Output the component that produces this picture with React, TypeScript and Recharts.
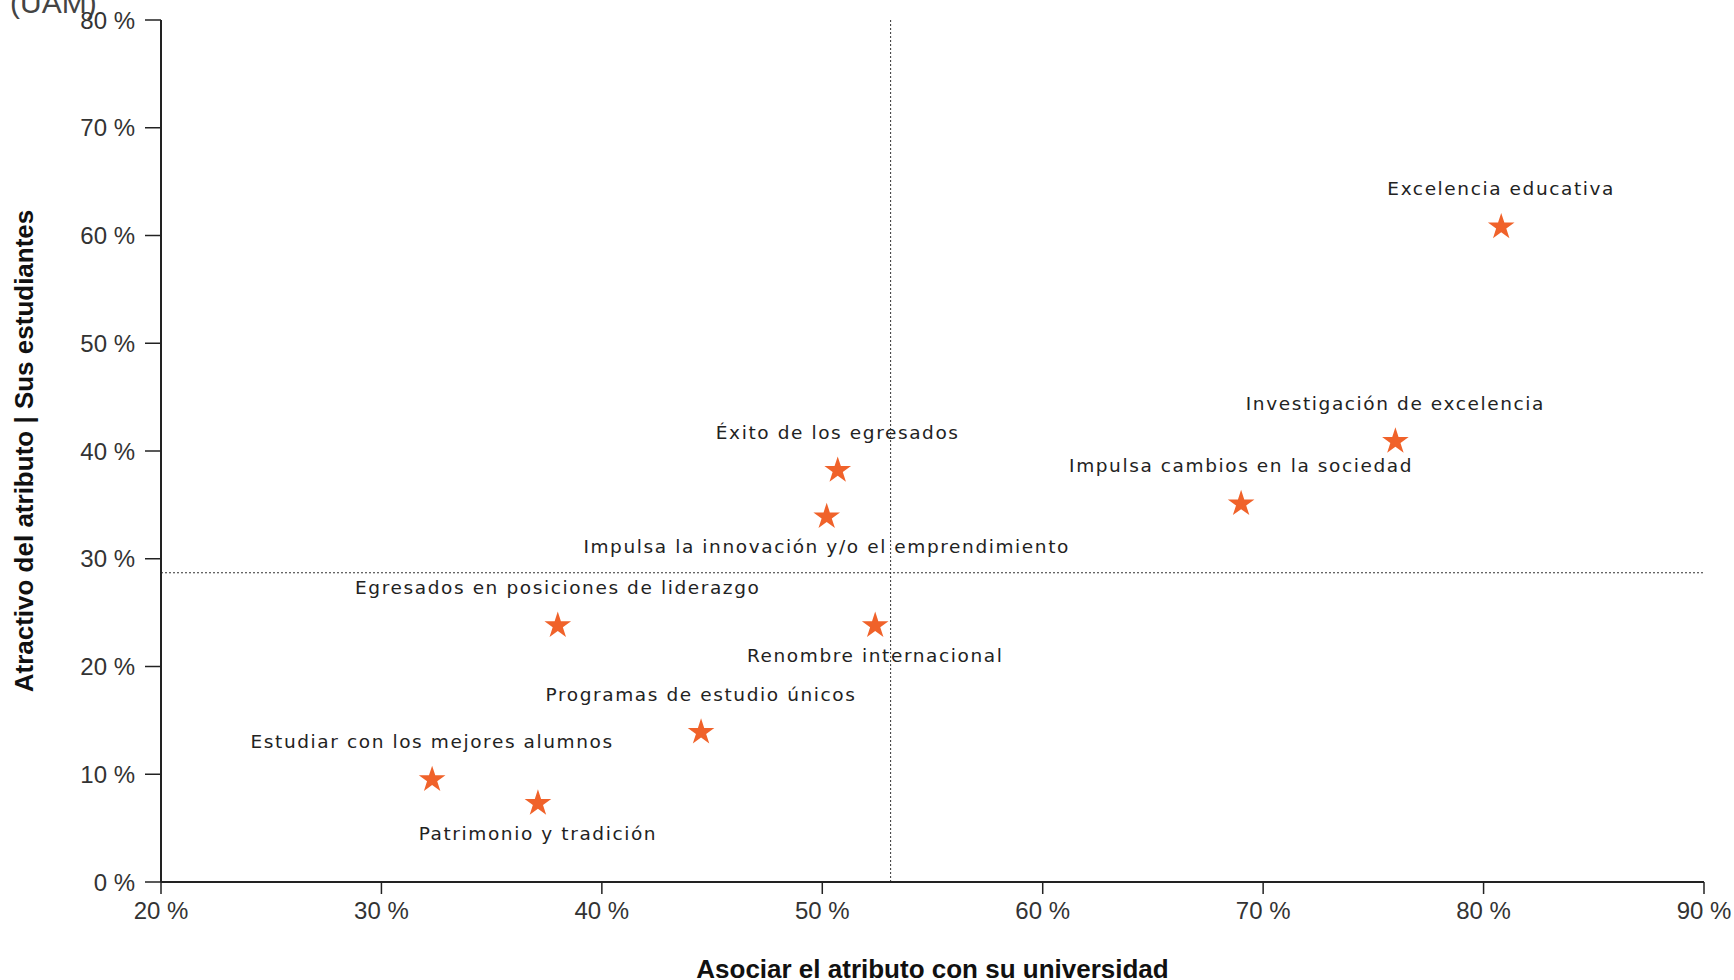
import { ReferenceLine, Scatter, ScatterChart, Symbols, XAxis, YAxis, Label } from "recharts";

const attributes = [
  "Excelencia educativa",
  "Investigación de excelencia",
  "Impulsa cambios en la sociedad",
  "Éxito de los egresados",
  "Impulsa la innovación y/o el emprendimiento",
  "Egresados en posiciones de liderazgo",
  "Renombre internacional",
  "Programas de estudio únicos",
  "Estudiar con los mejores alumnos",
  "Patrimonio y tradición",
];
const association = [80.8, 76.0, 69.0, 50.7, 50.2, 38.0, 52.4, 44.5, 32.3, 37.1];
const attractiveness = [60.8, 40.9, 35.1, 38.2, 33.9, 23.8, 23.8, 13.9, 9.5, 7.3];
const labelsBelow = ["Impulsa la innovación y/o el emprendimiento", "Renombre internacional", "Patrimonio y tradición"];

const avgAssociation = 53.1;
const avgAttractiveness = 28.7;

const xTicks = [20, 30, 40, 50, 60, 70, 80, 90];
const yTicks = [0, 10, 20, 30, 40, 50, 60, 70, 80];

const points = attributes.map((name, i) => ({ name, x: association[i], y: attractiveness[i] }));

const tickStyle = { fill: "#333", fontSize: 24, fontFamily: "'Liberation Sans Narrow', 'Liberation Sans', sans-serif" };

function StarPoint(props: any) {
  const { cx, cy, payload } = props;
  const below = labelsBelow.includes(payload.name);
  return (
    <g>
      <Symbols cx={cx} cy={cy} type="star" size={220} fill="#F0622A" />
      <text
        x={cx}
        y={below ? cy + 30 : cy - 38}
        textAnchor="middle"
        dominantBaseline="central"
        fill="#222"
        fontSize={18.5}
        fontFamily="'DejaVu Sans', sans-serif"
        letterSpacing={1.6}
      >
        {payload.name}
      </text>
    </g>
  );
}

export default function App() {
  return (
    <div style={{ position: "absolute", left: 0, top: 0, width: 1734, height: 980, background: "#fff", overflow: "hidden" }}>
      <div
        style={{
          position: "absolute",
          left: 10,
          top: -14,
          fontSize: 30,
          color: "#444",
          fontFamily: "'Liberation Sans', sans-serif",
        }}
      >
        (UAM)
      </div>
      <ScatterChart width={1734} height={980} margin={{ top: 20, right: 30, bottom: 0, left: 0 }}>
        <XAxis
          type="number"
          dataKey="x"
          domain={[20, 90]}
          ticks={xTicks}
          tickFormatter={(v) => `${v} %`}
          height={98}
          tickSize={12}
          tickMargin={8}
          tick={tickStyle}
          axisLine={{ stroke: "#222", strokeWidth: 2 }}
          tickLine={{ stroke: "#222", strokeWidth: 1.5 }}
        >
          <Label
            value="Asociar el atributo con su universidad"
            position="insideBottom"
            offset={2}
            style={{ fill: "#111", fontSize: 26, fontWeight: "bold", fontFamily: "'Liberation Sans Narrow', sans-serif" }}
          />
        </XAxis>
        <YAxis
          type="number"
          dataKey="y"
          domain={[0, 80]}
          ticks={yTicks}
          tickFormatter={(v) => `${v} %`}
          width={161}
          tickSize={16}
          tickMargin={10}
          tick={tickStyle}
          axisLine={{ stroke: "#222", strokeWidth: 2 }}
          tickLine={{ stroke: "#222", strokeWidth: 1.5 }}
        >
          <Label
            value="Atractivo del atributo | Sus estudiantes"
            position="insideLeft"
            angle={-90}
            offset={24}
            style={{ textAnchor: "middle", fill: "#111", fontSize: 26, fontWeight: "bold", fontFamily: "'Liberation Sans', sans-serif" }}
          />
        </YAxis>
        <ReferenceLine x={avgAssociation} stroke="#333" strokeDasharray="2 2" />
        <ReferenceLine y={avgAttractiveness} stroke="#333" strokeDasharray="2 2" />
        <Scatter data={points} shape={StarPoint} isAnimationActive={false} />
      </ScatterChart>
    </div>
  );
}
